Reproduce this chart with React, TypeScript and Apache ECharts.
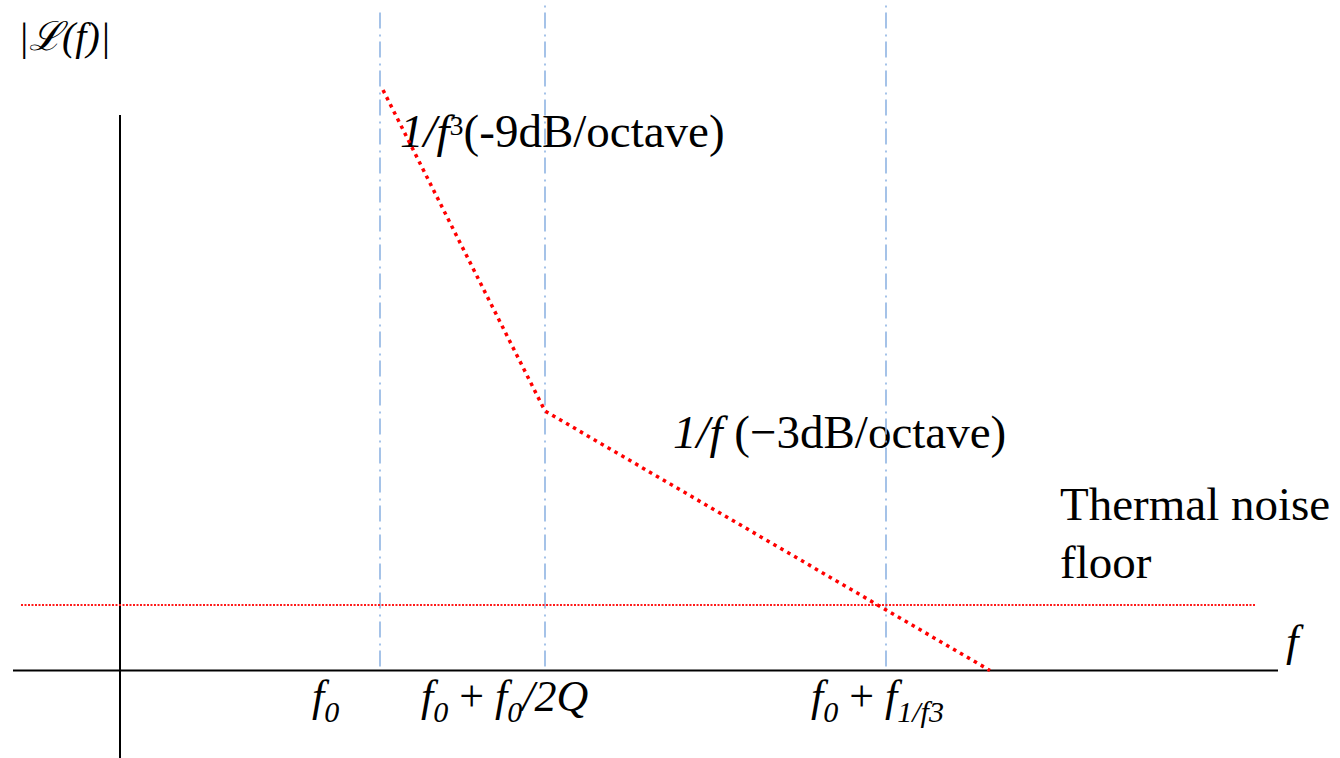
import React, { useEffect, useRef } from "react";
import * as echarts from "echarts";

const SERIF = "Liberation Serif, Times New Roman, serif";

// Plot frame in linear "frequency" / "level" units; origin is where the axes cross.
const X_RANGE = [-1.2, 12.2];
const Y_RANGE = [-0.875, 6.705];

// Drawn axis lines
const LEVEL_AXIS_SPAN = [-0.875, 5.555];
const FREQ_AXIS_SPAN = [-1.07, 11.58];

// Corner frequencies: f0, f0 + f0/2Q, f0 + f1/f3
const MARKER_FREQS = [2.6, 4.25, 7.66];
const MARKER_TOPS = [6.595, 6.655, 6.655];
const MARKER_BOTTOM = 0.04;

// Thermal noise floor
const NOISE_FLOOR = 0.655;
const NOISE_SPAN = [-0.99, 11.35];

// Piecewise phase-noise asymptotes (1/f^3 then 1/f)
const PN_FREQ = [2.63, 4.25, 8.7];
const PN_LEVEL = [5.805, 2.595, 0.0];

type Run = { t: string; size: number; italic?: boolean; rise?: number; kern?: number };
type Label = { x: number; baseline: number; runs: Run[] };

const LABELS: Label[] = [
  { x: 18, baseline: 50, runs: [{ t: "|ℒ(f)|", size: 40, italic: true }] },
  {
    x: 400,
    baseline: 147,
    runs: [
      { t: "1/f", size: 47, italic: true },
      { t: "3", size: 28, rise: 12 },
      { t: "(-9dB/octave)", size: 47 },
    ],
  },
  {
    x: 673,
    baseline: 448,
    runs: [
      { t: "1/f", size: 47, italic: true },
      { t: " (−3dB/octave)", size: 47 },
    ],
  },
  { x: 1060, baseline: 520, runs: [{ t: "Thermal noise", size: 47 }] },
  { x: 1060, baseline: 578, runs: [{ t: "floor", size: 47 }] },
  { x: 1286, baseline: 656, runs: [{ t: "f", size: 45, italic: true }] },
  {
    x: 312,
    baseline: 711,
    runs: [
      { t: "f", size: 44, italic: true },
      { t: "0", size: 30, italic: true, rise: -11 },
    ],
  },
  {
    x: 421,
    baseline: 711,
    runs: [
      { t: "f", size: 44, italic: true },
      { t: "0", size: 30, italic: true, rise: -11 },
      { t: " + ", size: 44 },
      { t: "f", size: 44, italic: true },
      { t: "0", size: 30, italic: true, rise: -11 },
      { t: "/2Q", size: 44, italic: true },
    ],
  },
  {
    x: 811,
    baseline: 711,
    runs: [
      { t: "f", size: 44, italic: true },
      { t: "0", size: 30, italic: true, rise: -11 },
      { t: " + ", size: 44 },
      { t: "f", size: 44, italic: true },
      { t: "1/f3", size: 30, italic: true, rise: -11 },
    ],
  },
];

// distance from the alphabetic baseline up to the "central" baseline, in em
const CENTRAL = 0.3375;

function fontOf(r: Run) {
  return `${r.italic ? "italic " : ""}${r.size}px ${SERIF}`;
}

function buildLabels() {
  const ctx = document.createElement("canvas").getContext("2d")!;
  const out: any[] = [];
  LABELS.forEach((lab) => {
    let x = lab.x;
    lab.runs.forEach((r) => {
      x += r.kern || 0;
      const font = fontOf(r);
      ctx.font = font;
      const w = ctx.measureText(r.t).width;
      const y = lab.baseline - (r.rise || 0) - CENTRAL * r.size;
      out.push({
        type: "text",
        x,
        y,
        silent: true,
        style: {
          text: r.t,
          font,
          fontFamily: SERIF,
          fontSize: r.size,
          fontStyle: r.italic ? "italic" : "normal",
          fontWeight: "normal",
          fill: "#000",
          align: "left",
          textAlign: "left",
          verticalAlign: "middle",
          textVerticalAlign: "middle",
        },
      });
      x += w;
    });
  });
  return out;
}

function seg(data: number[][], color: string, width: number, type: any, z: number) {
  return {
    type: "line",
    data,
    symbol: "none",
    silent: true,
    clip: false,
    z,
    lineStyle: { color, width, type, cap: "butt" },
  };
}

export default function App() {
  const ref = useRef<HTMLDivElement>(null);

  useEffect(() => {
    if (!ref.current) return;
    const chart = echarts.init(ref.current, undefined, { renderer: "svg" });

    const series: any[] = [];
    // axes
    series.push(seg([[0, LEVEL_AXIS_SPAN[0]], [0, LEVEL_AXIS_SPAN[1]]], "#000", 2, "solid", 3));
    series.push(seg([[FREQ_AXIS_SPAN[0], 0], [FREQ_AXIS_SPAN[1], 0]], "#000", 2, "solid", 3));
    // corner-frequency markers
    MARKER_FREQS.forEach((f, i) => {
      series.push(seg([[f, MARKER_BOTTOM], [f, MARKER_TOPS[i]]], "#8fb4e3", 1.6, [16, 5, 2, 6], 2));
    });
    // thermal noise floor
    series.push(
      seg([[NOISE_SPAN[0], NOISE_FLOOR], [NOISE_SPAN[1], NOISE_FLOOR]], "#ff1a1a", 2, [2, 1.5], 4)
    );
    // phase noise asymptotes
    series.push(seg(PN_FREQ.map((f, i) => [f, PN_LEVEL[i]]), "#ff0000", 3.5, [3.5, 4.5], 5));

    chart.setOption({
      animation: false,
      backgroundColor: "#fff",
      grid: { left: 0, right: 0, top: 0, bottom: 0 },
      xAxis: { type: "value", min: X_RANGE[0], max: X_RANGE[1], show: false },
      yAxis: { type: "value", min: Y_RANGE[0], max: Y_RANGE[1], show: false },
      series,
      graphic: { elements: buildLabels() },
    });

    return () => chart.dispose();
  }, []);

  return (
    <div
      ref={ref}
      style={{ position: "absolute", left: 0, top: 0, width: 1340, height: 758 }}
    />
  );
}
